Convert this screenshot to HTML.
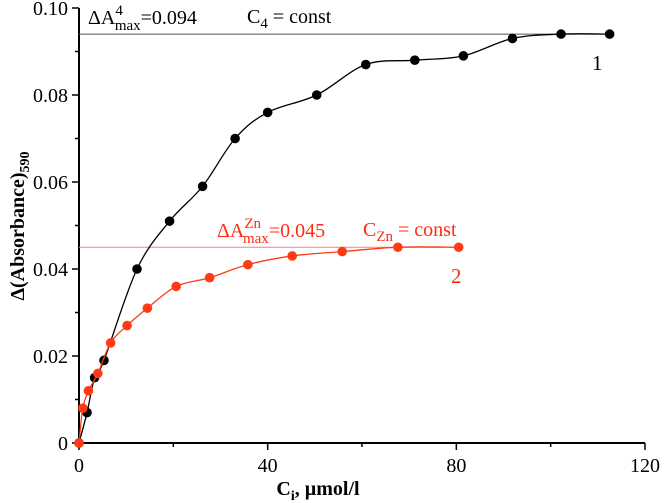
<!DOCTYPE html>
<html><head><meta charset="utf-8"><style>
body{margin:0;background:#fff;font-family:"Liberation Serif","Times New Roman",Times,"DejaVu Serif",serif}
svg{display:block}
svg text{font-family:"Liberation Serif","Times New Roman",Times,"DejaVu Serif",serif}
</style></head><body>
<svg id="chart" width="664" height="503"></svg>
<script>
const xTicks=[0,40,80,120];
const yTicks=[0,0.02,0.04,0.06,0.08,0.10];
const yTickLabels=["0","0.02","0.04","0.06","0.08","0.10"];
const s1x=[0,1.7,3.3,5.3,12.3,19.2,26.2,33.1,40,50.4,60.8,71.2,81.5,91.9,102.2,112.5];
const s1y=[0,0.007,0.015,0.019,0.040,0.051,0.059,0.070,0.076,0.080,0.087,0.088,0.089,0.093,0.094,0.094];
const s2x=[0,0.8,2,4,6.7,10.2,14.5,20.6,27.7,35.8,45.2,55.8,67.6,80.5];
const s2y=[0,0.008,0.012,0.016,0.023,0.027,0.031,0.036,0.038,0.041,0.043,0.044,0.045,0.045];
const max1=0.094, max2=0.045;
const X0=79,X1=645,Y0=443,Y1=8;
const xs=v=>X0+(v/120)*(X1-X0);
const ys=v=>Y0-(v/0.10)*(Y0-Y1);
const svg=document.getElementById('chart');
const NS='http://www.w3.org/2000/svg';
function el(t,a,p){const e=document.createElementNS(NS,t);for(const k in a)e.setAttribute(k,a[k]);if(t==='text')e.style.fontFamily='"Liberation Serif","Times New Roman",Times,"DejaVu Serif",serif';(p||svg).appendChild(e);return e;}
let ax=el('line',{x1:X0,y1:Y0,x2:X1,y2:Y0,stroke:'#000','stroke-width':2});


let ay=el('line',{x1:X0,y1:Y0+1,x2:X0,y2:Y1,stroke:'#000','stroke-width':2});


for(let v=0;v<=120;v+=20){const maj=v%40===0;el('line',{x1:xs(v),y1:Y0,x2:xs(v),y2:Y0+(maj?7:4),stroke:'#000','stroke-width':1.5});}
xTicks.forEach(v=>{const t=el('text',{x:xs(v),y:Y0+29,'text-anchor':'middle','font-size':20});t.textContent=v;

});
for(let i=0;i<=10;i++){const v=i*0.01;el('line',{x1:X0,y1:ys(v),x2:X0-(i%2===0?7:4),y2:ys(v),stroke:'#000','stroke-width':1.5});}
yTicks.forEach((v,i)=>{const t=el('text',{x:X0-11,y:ys(v)+7,'text-anchor':'end','font-size':20});t.textContent=yTickLabels[i];

});
let xt=el('text',{x:318,y:495,'text-anchor':'middle','font-size':20,'font-weight':'bold'});
xt.innerHTML='C<tspan font-size="14" dy="5">i</tspan><tspan dy="-5">, µmol/l</tspan>';


let yt=el('text',{transform:'translate(24,226) rotate(-90)','text-anchor':'middle','font-size':20,'font-weight':'bold'});
yt.innerHTML='Δ(Absorbance)<tspan font-size="14" dy="5">590</tspan>';


let r1=el('line',{x1:X0,y1:ys(max1),x2:xs(s1x[s1x.length-1]),y2:ys(max1),stroke:'#555','stroke-width':1});


let r2=el('line',{x1:X0,y1:ys(max2),x2:xs(s2x[s2x.length-1]),y2:ys(max2),stroke:'#f88070','stroke-width':1});


function spline(xa,ya){const p=xa.map((x,i)=>[xs(x),ys(ya[i])]);let d='M'+p[0][0]+','+p[0][1];
for(let i=0;i<p.length-1;i++){const p0=p[Math.max(0,i-1)],p1=p[i],p2=p[i+1],p3=p[Math.min(p.length-1,i+2)];
const c1=[p1[0]+(p2[0]-p0[0])/6,p1[1]+(p2[1]-p0[1])/6],c2=[p2[0]-(p3[0]-p1[0])/6,p2[1]-(p3[1]-p1[1])/6];
d+=` C${c1[0]},${c1[1]} ${c2[0]},${c2[1]} ${p2[0]},${p2[1]}`;}return d;}
function series(xa,ya,col,name){
const l=el('path',{d:spline(xa,ya),fill:'none',stroke:col,'stroke-width':1.3});


xa.forEach((x,i)=>{const c=el('circle',{cx:xs(x),cy:ys(ya[i]),r:4.8,fill:col});

});}
series(s1x,s1y,'#000','series-1');
series(s2x,s2y,'#ff3a14','series-2');
function txt(x,y,html,col,name,size){const t=el('text',{x:x,y:y,'font-size':size||20,fill:col});t.innerHTML=html;

}
txt(88,24,'ΔA<tspan font-size="15" dy="-9">4</tspan><tspan font-size="15" dx="-8" dy="15">max</tspan><tspan dy="-6">=0.094</tspan>','#000','max-label-1');
txt(247,23,'C<tspan font-size="15" dy="5">4</tspan><tspan dy="-5"> = const</tspan>','#000','const-label-1');
txt(592,70,'1','#000','series-1-label',21);
txt(217,237,'ΔA<tspan font-size="15" dy="-9">Zn</tspan><tspan font-size="15" dx="-18" dy="15">max</tspan><tspan dy="-6">=0.045</tspan>','#ff2a10','max-label-2');
txt(363,236,'C<tspan font-size="15" dy="5">Zn</tspan><tspan dy="-5"> = const</tspan>','#ff2a10','const-label-2');
txt(451,283,'2','#ff2a10','series-2-label',21);
</script>
</body></html>
